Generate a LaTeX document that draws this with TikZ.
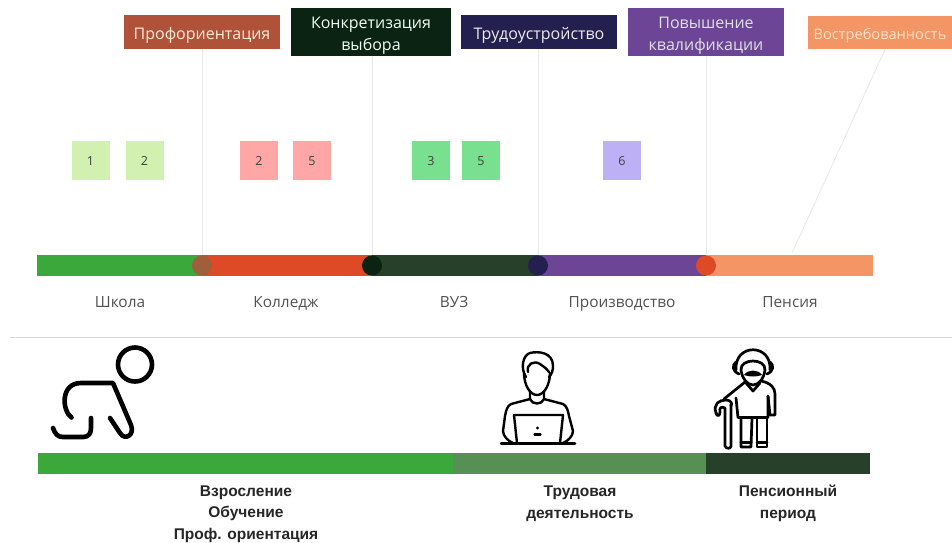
\documentclass[tikz,border=0pt]{standalone}
\usepackage{fontspec}
\setmainfont[Numbers=Lining]{Open Sans}
\newfontfamily\boldlabel[BoldFont={Liberation Sans Bold}]{Liberation Sans}
\definecolor{schoolgreen}{HTML}{3BA83B}
\definecolor{collegered}{HTML}{DE4A26}
\definecolor{uniblack}{HTML}{26402A}
\definecolor{workpurple}{HTML}{6D4596}
\definecolor{pensionorange}{HTML}{F39564}
\definecolor{workgreen}{HTML}{559155}
\definecolor{profbrown}{HTML}{B0523A}
\definecolor{choiceblack}{HTML}{0B2312}
\definecolor{jobnavy}{HTML}{231F4F}
\definecolor{numlime}{HTML}{D2F0B0}
\definecolor{numpink}{HTML}{FFA6A6}
\definecolor{numgreen}{HTML}{78E08F}
\definecolor{numviolet}{HTML}{BDB0F5}
\tikzset{
    stagebox/.style={minimum width=156pt, minimum height=34pt, inner sep=0pt, align=center,
        text height=14pt, text depth=0pt, font=\fontsize{16}{21.5}\selectfont},
    tallbox/.style={stagebox, minimum width=160pt, minimum height=48pt, text height=36pt},
    numbox/.style={minimum width=38pt, minimum height=39pt, inner sep=0pt, text=black!75,
        text height=9.5pt, text depth=0pt, font=\fontsize{12.5}{14}\selectfont},
    joint/.style={circle, minimum size=20pt, inner sep=0pt},
    guide/.style={draw=black!9, line width=0.8pt},
    placename/.style={anchor=base, text=black!68, font=\fontsize{15.4}{18}\selectfont},
    periodname/.style={align=center, text=black!85,
        font=\boldlabel\bfseries\fontsize{15.5}{21.5}\selectfont},
    icon/.style={draw=black, line cap=round, line join=round, fill=none}
}
\begin{document}
\begin{tikzpicture}[x=1pt, y=-1pt]
    \useasboundingbox (0,0) rectangle (952,542);
    \fill[white] (0,0) rectangle (952,542);

    % upper strip
    \fill[schoolgreen] (37,255) rectangle (202,276);
    \fill[collegered] (202,255) rectangle (372,276);
    \fill[uniblack] (372,255) rectangle (538,276);
    \fill[workpurple] (538,255) rectangle (706,276);
    \fill[pensionorange] (706,255) rectangle (873,276);
    \node[joint, fill=profbrown!85!schoolgreen] (dotprof) at (202,265.5) {};
    \node[joint, fill=choiceblack] (dotchoice) at (372,265.5) {};
    \node[joint, fill=jobnavy] (dotjob) at (538,265.5) {};
    \node[joint, fill=collegered] (dotskill) at (706,265.5) {};
    \coordinate (dotdemand) at (792,253);

    % boxes
    \node[stagebox, fill=profbrown, text=orange!15!white] (prof) at (202,32) {Профориентация};
    \node[tallbox, fill=choiceblack, text=green!6!white] (choice) at (371,32) {Конкретизация\\выбора};
    \node[stagebox, fill=jobnavy, text=white!92!black] (job) at (539,32) {Трудоустройство};
    \node[tallbox, minimum width=156pt, fill=workpurple, text=white!88!black] (skill) at (706,32) {Повышение\\квалификации};
    \node[stagebox, minimum width=144pt, minimum height=33pt, fill=pensionorange, text=orange!22!white,
        font=\fontsize{14.6}{18}\selectfont] (demand) at (880,32.5) {Востребованность};

    \draw[guide] (prof) -- (dotprof);
    \draw[guide] (choice.south -| dotchoice) -- (dotchoice);
    \draw[guide] (job.south -| dotjob) -- (dotjob);
    \draw[guide] (skill) -- (dotskill);
    \draw[guide] (885,49.5) -- (dotdemand);

    % numbers
    \node[numbox, fill=numlime] (numa) at (90.5,160.5) {1};
    \node[numbox, fill=numlime] (numb) at (144.5,160.5) {2};
    \node[numbox, fill=numpink] (numc) at (259,160.5) {2};
    \node[numbox, fill=numpink] (numd) at (312,160.5) {5};
    \node[numbox, fill=numgreen] (nume) at (431,160.5) {3};
    \node[numbox, fill=numgreen] (numf) at (481,160.5) {5};
    \node[numbox, fill=numviolet] (numg) at (622,160.5) {6};

    % places
    \node[placename] (school) at (120,307.5) {Школа};
    \node[placename] (college) at (286,307.5) {Колледж};
    \node[placename] (uni) at (454,307.5) {ВУЗ};
    \node[placename] (plant) at (622,307.5) {Производство};
    \node[placename] (pension) at (790,307.5) {Пенсия};

    \draw[black!15, line width=1pt] (10,337) -- (952,337);

    % crawling child
    \draw[icon, line width=4.6pt] (135,364.5) circle (17);
    \draw[icon, line width=4.6pt] (71.5,417.5) .. controls (62,411) and (60,383) .. (81,383) -- (113,383)
        -- (131,425) .. controls (135,435) and (125,441) .. (120,433) -- (110,418);
    \draw[icon, line width=4.6pt] (53,428) .. controls (55,434) and (58,437) .. (63,437) -- (83,437)
        .. controls (89,437) and (91,433) .. (91,428) -- (91,418);

    % programmer
    \begin{scope}[icon, line width=2.4pt]
        \draw (524,373) .. controls (524,385) and (530,395) .. (537,395)
            .. controls (544,395) and (550,385) .. (550,373);
        \draw (526,377) .. controls (520,368) and (523,355) .. (530,353)
            .. controls (538,351) and (553,352) .. (553,366) .. controls (553,370) and (552,374) .. (549,377);
        \draw (528,372) .. controls (526,364) and (534,360) .. (540,364) .. controls (543,366) and (546,368) .. (549,372);
        \draw (530,391) -- (530,399) .. controls (532,405) and (542,405) .. (544,399) -- (544,391);
        \draw (530,399) -- (511,404) .. controls (507,406) and (506,411) .. (505,416) -- (503,431)
            .. controls (503,436) and (508,441) .. (513,443);
        \draw (544,399) -- (563,404) .. controls (567,406) and (568,411) .. (569,416) -- (573,431)
            .. controls (573,436) and (568,441) .. (563,443);
        \draw (517,443) -- (514,415) -- (563,415) -- (560,443);
        \draw[line width=2.8pt] (501,443.7) -- (575,443.7);
        \fill (537.5,428) circle (1.7);
        \draw (534.5,434.5) -- (540.5,434.5);
    \end{scope}

    % old man
    \begin{scope}[icon, line width=2.7pt]
        \draw (736,370) .. controls (734,343) and (772,343) .. (770,370);
        \draw (741,370) .. controls (740,358) and (766,358) .. (765,370);
        \draw (741,370) .. controls (742,378) and (747,385) .. (753,385) .. controls (759,385) and (764,378) .. (765,370);
        \draw (736,362) .. controls (732,365) and (732,371) .. (739,374);
        \draw (770,362) .. controls (774,365) and (774,371) .. (767,374);
        \fill (744,375) .. controls (748,369) and (758,369) .. (762,375)
            .. controls (757,377) and (749,377) .. (744,375);
        \draw (746,383) -- (753,391) -- (760,383);
        \draw (745,382) -- (724,399);
        \draw (761,381) .. controls (771,383) and (775,388) .. (775,394) -- (775,415) -- (770,415) -- (768,396);
        \draw (736,398) -- (738,417.5) -- (768,417.5) -- (768,396);
        \draw (741,418) -- (741,447) -- (751,447) -- (752,418);
        \draw (741,442.5) -- (751,442.5);
        \draw (757,418) -- (757,447) -- (767,447) -- (767,418);
        \draw (757,442.5) -- (767,442.5);
        \draw (725,408) -- (725,446) .. controls (726,449) and (731,449) .. (731,446) -- (731,404);
        \draw (716,413) .. controls (713,404) and (719,400) .. (726,400) .. controls (730,400) and (733,403) .. (731,406);
        \draw (716,413) .. controls (717,417) and (720,416) .. (720,412) .. controls (719,408) and (721,406) .. (725,408);
    \end{scope}

    % lower strip
    \fill[schoolgreen] (38,453) rectangle (453,474);
    \fill[workgreen] (453,453) rectangle (706,474);
    \fill[uniblack] (706,453) rectangle (870,474);

    \node[periodname] (growing) at (246,514) {Взросление\\Обучение\\Проф. ориентация};
    \node[periodname] (working) at (580,503.5) {Трудовая\\деятельность};
    \node[periodname] (retired) at (788,503.5) {Пенсионный\\период};
\end{tikzpicture}
\end{document}
